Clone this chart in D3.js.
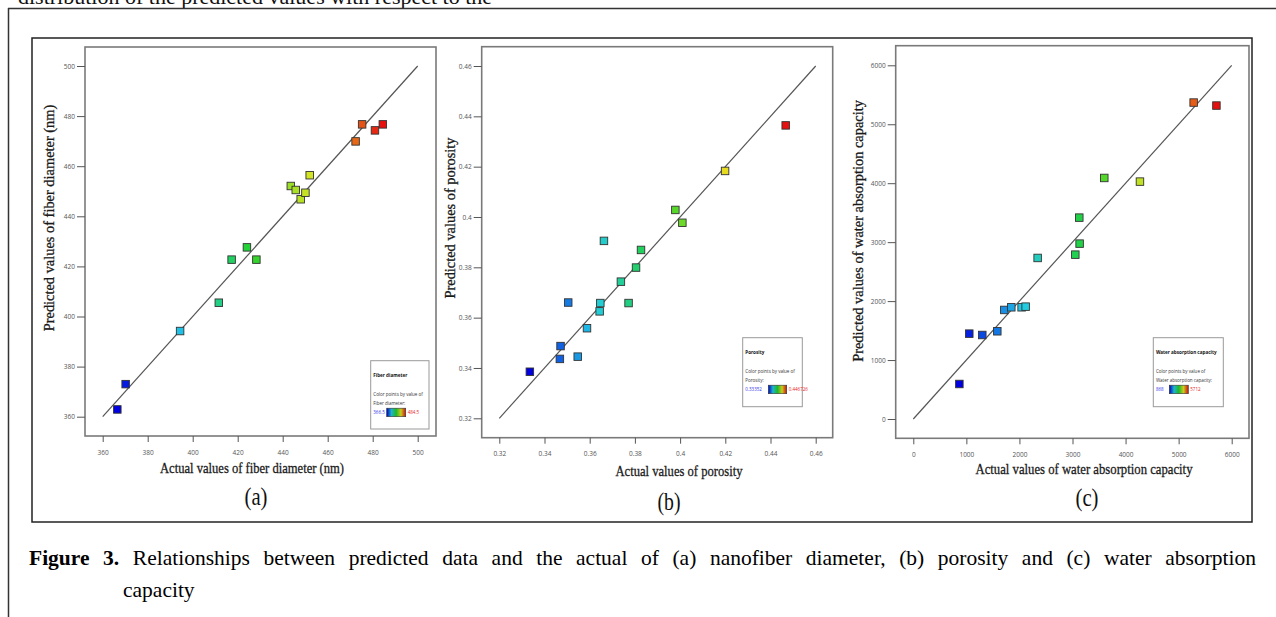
<!DOCTYPE html>
<html>
<head>
<meta charset="utf-8">
<script src="https://cdn.jsdelivr.net/npm/d3@7"></script>
<style>
    html, body { margin: 0; padding: 0; background: #fff; }
    svg { display: block; }
    .tick text { font-family: "Open Sans", sans-serif; fill: #555; }
    .tick line { stroke: #555; }
</style>
</head>
<body>
<div id="root"></div>
<script>
const WIDTH = 1276;
const HEIGHT = 617;

// (a) fiber diameter (nm)
const fiberActual = [366.5, 370.2, 394.4, 411.6, 417.3, 424.1, 428.3, 443.6, 445.8, 448.0, 450.1, 452.0, 472.4, 475.3, 481.0, 484.5];
const fiberPredicted = [362.9, 373.0, 394.2, 405.5, 422.7, 427.6, 422.7, 452.1, 450.5, 446.8, 449.4, 456.4, 469.9, 476.7, 474.3, 476.7];
const fiberTicks = [360, 380, 400, 420, 440, 460, 480, 500];
const fiberTickLabels = ["360", "380", "400", "420", "440", "460", "480", "500"];

// (b) porosity
const porosityActual = [0.33352, 0.3471, 0.3468, 0.3505, 0.3547, 0.3588, 0.3644, 0.3647, 0.3663, 0.3738, 0.3772, 0.3805, 0.3827, 0.3979, 0.4010, 0.4199, 0.446726];
const porosityPredicted = [0.3385, 0.3487, 0.3436, 0.3660, 0.3445, 0.3558, 0.3625, 0.3658, 0.3905, 0.3743, 0.3658, 0.3799, 0.3869, 0.4028, 0.3977, 0.4183, 0.4364];
const porosityTicks = [0.32, 0.34, 0.36, 0.38, 0.40, 0.42, 0.44, 0.46];
const porosityTickLabels = ["0.32", "0.34", "0.36", "0.38", "0.4", "0.42", "0.44", "0.46"];

// (c) water absorption capacity
const waterActual = [868, 1055, 1300, 1583, 1715, 1847, 2041, 2117, 2343, 3053, 3128, 3134, 3599, 4271, 5283, 5712];
const waterPredicted = [594, 1448, 1425, 1488, 1850, 1895, 1895, 1906, 2732, 2788, 3416, 2975, 4089, 4027, 5368, 5317];
const waterTicks = [0, 1000, 2000, 3000, 4000, 5000, 6000];
const waterTickLabels = ["0", "1000", "2000", "3000", "4000", "5000", "6000"];

const panelLabels = ["(a)", "(b)", "(c)"];
const legendTitles = ["Fiber diameter", "Porosity", "Water absorption capacity"];
const xTitles = ["Actual values of fiber diameter (nm)", "Actual values of porosity", "Actual values of water absorption capacity"];
const yTitles = ["Predicted values of fiber diameter (nm)", "Predicted values of porosity", "Predicted values of water absorption capacity"];

const topText = "distribution of the predicted values with respect to the";
const captionBold = "Figure 3.";
const captionRest = " Relationships between predicted data and the actual of (a) nanofiber diameter, (b) porosity and (c) water absorption";
const captionLine2 = "capacity";

const RAINBOW = ["#0000e0", "#22cce6", "#22d22e", "#e6e622", "#e61010"];

const panels = [
    {
        actual: fiberActual, predicted: fiberPredicted, ticks: fiberTicks, tickLabels: fiberTickLabels,
        box: {left: 85, top: 47, right: 436, bottom: 436},
        xRange: [102.7, 417.7], yRange: [416.7, 66],
        xTitlePos: [252, 473, 184], yTitlePos: [54, 218],
        legend: {x: 370.7, y: 360.7, w: 58.3, h: 68.3, barX: 16, barW: 19},
        labelPos: [256, 505]
    },
    {
        actual: porosityActual, predicted: porosityPredicted, ticks: porosityTicks, tickLabels: porosityTickLabels,
        box: {left: 481.7, top: 46.7, right: 832.7, bottom: 437.7},
        xRange: [499.3, 815.7], yRange: [418.3, 66],
        xTitlePos: [679, 476, 127], yTitlePos: [455, 218],
        legend: {x: 742.7, y: 337.7, w: 59.6, h: 69, barX: 25.6, barW: 18.4},
        labelPos: [669, 510]
    },
    {
        actual: waterActual, predicted: waterPredicted, ticks: waterTicks, tickLabels: waterTickLabels,
        box: {left: 895.7, top: 45.7, right: 1249, bottom: 438.3},
        xRange: [913.3, 1231.7], yRange: [419, 65.3],
        xTitlePos: [1084, 474, 217], yTitlePos: [863, 231],
        legend: {x: 1153.3, y: 337.7, w: 70, h: 69, barX: 16, barW: 19},
        labelPos: [1087, 506]
    }
];

const svg = d3.select("#root")
    .append("svg")
    .attr("width", WIDTH)
    .attr("height", HEIGHT);

const defs = svg.append("defs");

// page text above the figure (cut off at the top)
svg.append("text")
    .attr("x", 18)
    .attr("y", 4)
    .style("font-family", "'Liberation Serif', serif")
    .style("font-size", "22px")
    .attr("fill", "#111")
    .text(topText);

// page frame lines
svg.append("line")
    .attr("x1", 8).attr("x2", WIDTH).attr("y1", 8.5).attr("y2", 8.5)
    .attr("stroke", "#333").attr("stroke-width", 1.5);
svg.append("line")
    .attr("x1", 8.5).attr("x2", 8.5).attr("y1", 8).attr("y2", HEIGHT)
    .attr("stroke", "#333").attr("stroke-width", 1.5);

// figure frame
svg.append("rect")
    .attr("x", 32).attr("y", 38).attr("width", 1220).attr("height", 484)
    .attr("fill", "#fff").attr("stroke", "#222").attr("stroke-width", 1.5);

function drawPanel(p, i) {
    const g = svg.append("g").attr("class", "panel");
    const domain = [p.ticks[0], p.ticks[p.ticks.length - 1]];

    const xScale = d3.scaleLinear().domain(domain).range(p.xRange);
    const yScale = d3.scaleLinear().domain(domain).range(p.yRange);

    const extent = d3.extent(p.actual);
    const colorScale = d3.scaleLinear()
        .domain(RAINBOW.map((c, k) => extent[0] + (extent[1] - extent[0]) * k / (RAINBOW.length - 1)))
        .range(RAINBOW);

    // plot box
    g.append("rect")
        .attr("x", p.box.left).attr("y", p.box.top)
        .attr("width", p.box.right - p.box.left).attr("height", p.box.bottom - p.box.top)
        .attr("fill", "#fff").attr("stroke", "#7a7a7a").attr("stroke-width", 1.6);

    // axes
    const xAxis = d3.axisBottom(xScale)
        .tickValues(p.ticks)
        .tickFormat((d, k) => p.tickLabels[k])
        .tickSize(6)
        .tickPadding(8);
    g.append("g")
        .attr("transform", `translate(0, ${p.box.bottom})`)
        .call(xAxis)
        .call(a => a.select(".domain").remove())
        .call(a => a.selectAll("text").style("font-size", "6.5px"));

    const yAxis = d3.axisLeft(yScale)
        .tickValues(p.ticks)
        .tickFormat((d, k) => p.tickLabels[k])
        .tickSize(8)
        .tickPadding(2);
    g.append("g")
        .attr("transform", `translate(${p.box.left}, 0)`)
        .call(yAxis)
        .call(a => a.select(".domain").remove())
        .call(a => a.selectAll("text").style("font-size", "6.5px"));

    // identity line
    g.append("line")
        .attr("x1", xScale(domain[0])).attr("y1", yScale(domain[0]))
        .attr("x2", xScale(domain[1])).attr("y2", yScale(domain[1]))
        .attr("stroke", "#555").attr("stroke-width", 1.2);

    // points
    const points = p.actual.map((a, k) => ({actual: a, predicted: p.predicted[k]}));
    const size = 7.5;
    g.selectAll(".point")
        .data(points)
        .enter()
        .append("rect")
        .attr("class", "point")
        .attr("x", d => xScale(d.actual) - size / 2)
        .attr("y", d => yScale(d.predicted) - size / 2)
        .attr("width", size)
        .attr("height", size)
        .attr("fill", d => colorScale(d.actual))
        .attr("stroke", "#333")
        .attr("stroke-width", 0.9);

    // axis titles
    g.append("text")
        .attr("x", p.xTitlePos[0])
        .attr("y", p.xTitlePos[1])
        .attr("text-anchor", "middle")
        .attr("textLength", p.xTitlePos[2])
        .attr("lengthAdjust", "spacingAndGlyphs")
        .style("font-family", "'Liberation Serif', serif")
        .style("font-size", "15.5px")
        .attr("fill", "#1a1a1a")
        .attr("stroke", "#1a1a1a")
        .attr("stroke-width", 0.3)
        .text(xTitles[i]);

    g.append("text")
        .attr("transform", `translate(${p.yTitlePos[0]}, ${p.yTitlePos[1]}) rotate(-90)`)
        .attr("text-anchor", "middle")
        .style("font-family", "'Liberation Serif', serif")
        .style("font-size", "14.4px")
        .attr("fill", "#1a1a1a")
        .attr("stroke", "#1a1a1a")
        .attr("stroke-width", 0.3)
        .text(yTitles[i]);

    // legend
    const L = p.legend;
    const lg = g.append("g").attr("transform", `translate(${L.x}, ${L.y})`);
    lg.append("rect")
        .attr("width", L.w).attr("height", L.h)
        .attr("fill", "#fff").attr("stroke", "#999").attr("stroke-width", 1);

    const lfont = "'Open Sans', sans-serif";
    lg.append("text")
        .attr("x", 2.6).attr("y", 16.5)
        .style("font-family", lfont).style("font-size", "4.6px").style("font-weight", "bold")
        .attr("fill", "#111")
        .text(legendTitles[i]);
    lg.append("text")
        .attr("x", 2.6).attr("y", 35)
        .style("font-family", lfont).style("font-size", "4.5px")
        .attr("fill", "#333")
        .text("Color points by value of");
    lg.append("text")
        .attr("x", 2.6).attr("y", 44)
        .style("font-family", lfont).style("font-size", "4.5px")
        .attr("fill", "#333")
        .text(legendTitles[i] + ":");
    lg.append("text")
        .attr("x", 2.6).attr("y", 53.3)
        .style("font-family", lfont).style("font-size", "4.5px")
        .attr("fill", "#3535ee")
        .text(String(extent[0]));

    const gradId = "grad" + i;
    const grad = defs.append("linearGradient").attr("id", gradId);
    grad.selectAll("stop")
        .data(colorScale.domain())
        .enter()
        .append("stop")
        .attr("offset", (d, k) => (k / (RAINBOW.length - 1) * 100) + "%")
        .attr("stop-color", d => d3.color(colorScale(d)).darker(0.35));

    lg.append("rect")
        .attr("x", L.barX).attr("y", 47.5)
        .attr("width", L.barW).attr("height", 8.5)
        .attr("fill", `url(#${gradId})`)
        .attr("stroke", "#333").attr("stroke-width", 0.6);

    lg.append("text")
        .attr("x", L.barX + L.barW + 2).attr("y", 53.3)
        .style("font-family", lfont).style("font-size", "4.5px")
        .attr("fill", "#e52222")
        .text(String(extent[1]));

    // sub-figure label
    g.append("text")
        .attr("x", p.labelPos[0]).attr("y", p.labelPos[1])
        .attr("text-anchor", "middle")
        .attr("textLength", 23)
        .attr("lengthAdjust", "spacingAndGlyphs")
        .style("font-family", "'Liberation Serif', serif")
        .style("font-size", "25px")
        .attr("fill", "#111")
        .text(panelLabels[i]);
}

panels.forEach(drawPanel);

// caption, justified to the measured line width
const caption = svg.append("text")
    .attr("x", 29)
    .attr("y", 565)
    .style("font-family", "'Liberation Serif', serif")
    .style("font-size", "21.5px")
    .attr("fill", "#000");
caption.append("tspan").style("font-weight", "bold").text(captionBold);
caption.append("tspan").text(captionRest);

const lineWidth = 1227;
const natural = caption.node().getComputedTextLength();
const spaces = (captionBold + captionRest).split(" ").length - 1;
if (natural < lineWidth) {
    caption.style("word-spacing", ((lineWidth - natural) / spaces) + "px");
}

svg.append("text")
    .attr("x", 123)
    .attr("y", 597)
    .style("font-family", "'Liberation Serif', serif")
    .style("font-size", "21.5px")
    .attr("fill", "#000")
    .text(captionLine2);
</script>
</body>
</html>
